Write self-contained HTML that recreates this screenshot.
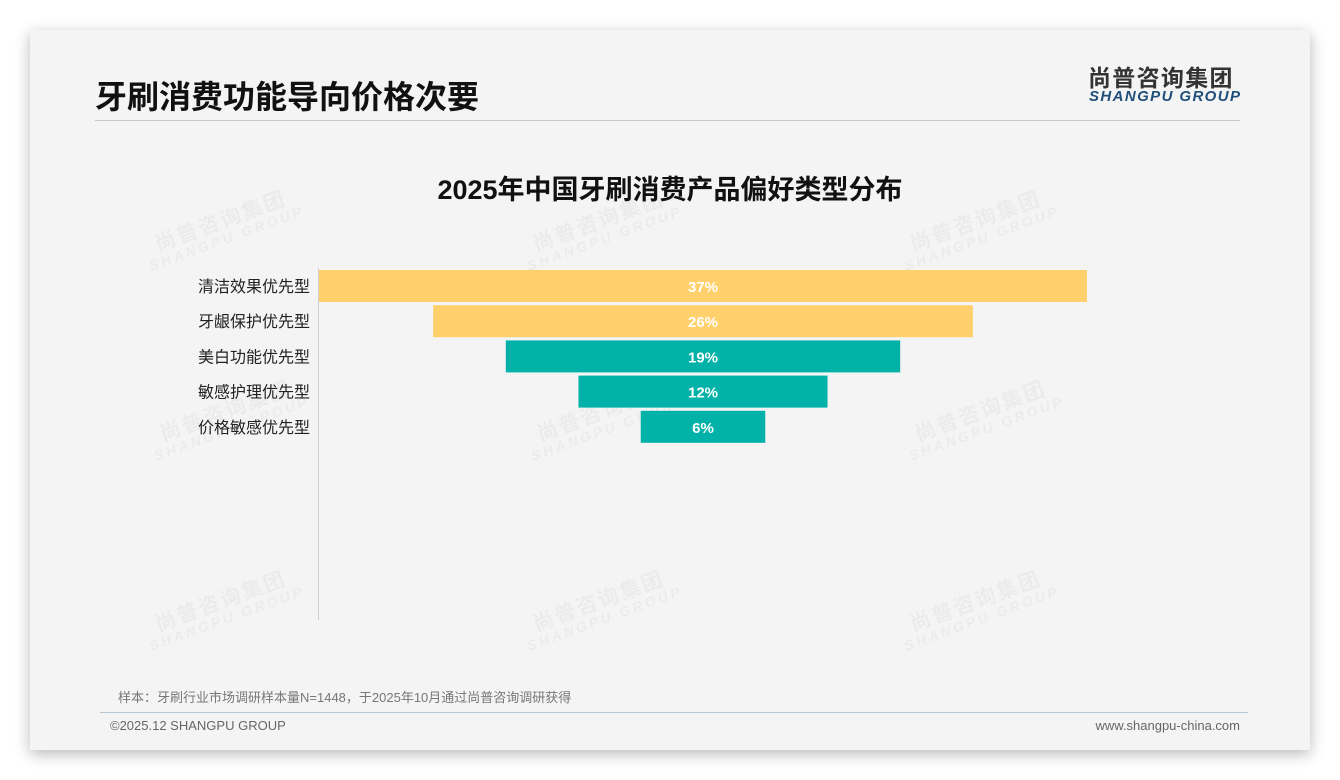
<!DOCTYPE html>
<html><head><meta charset="utf-8">
<style>
*{margin:0;padding:0;box-sizing:border-box}
body{width:1340px;height:780px;background:#fff;position:relative;overflow:hidden;font-family:"Liberation Sans","Noto Sans CJK SC",sans-serif}
#card{position:absolute;left:30px;top:30px;width:1280px;height:720px;background:#f4f4f4;box-shadow:0 4px 14px rgba(0,0,0,0.28)}
.abs{position:absolute}
.wm{position:absolute;transform:rotate(-20deg);transform-origin:0 0;color:rgba(0,0,0,0.035);font-weight:bold;text-align:center;line-height:1}
.wm .a{font-size:21px;letter-spacing:2px}
.wm .b{font-size:14px;letter-spacing:3px;font-style:italic}
</style></head><body>
<div id="card">
  <div class="abs" style="left:65px;top:42px;font-size:32px;font-weight:bold;color:#111">牙刷消费功能导向价格次要</div>
  <div class="abs" style="left:1058px;top:29px;font-size:23px;font-weight:bold;color:#333;letter-spacing:1.3px">尚普咨询集团</div>
  <div class="abs" style="left:1059px;top:58px;font-size:15px;font-weight:bold;font-style:italic;color:#1f4f7a;letter-spacing:1.4px">SHANGPU GROUP</div>
  <div class="abs" style="left:65px;top:90px;width:1145px;height:1px;background:#c8c8c8"></div>
  <div class="abs" style="left:0;width:1280px;top:138px;text-align:center;font-size:27px;font-weight:bold;color:#111">2025年中国牙刷消费产品偏好类型分布</div>
  <div class="abs" style="left:88px;top:657px;font-size:13px;color:#777">样本：牙刷行业市场调研样本量N=1448，于2025年10月通过尚普咨询调研获得</div>
  <div class="abs" style="left:70px;top:682px;width:1148px;height:1px;background:#b9c6d3"></div>
  <div class="abs" style="left:80px;top:688px;font-size:13px;color:#666">©2025.12 SHANGPU GROUP</div>
  <div class="abs" style="right:70px;top:688px;font-size:13px;color:#666">www.shangpu-china.com</div>
</div>
<div id="wms"></div>
<svg id="chart" width="1340" height="780" style="position:absolute;left:0;top:0"></svg>
<script>
const categories=["清洁效果优先型","牙龈保护优先型","美白功能优先型","敏感护理优先型","价格敏感优先型"];
const values=[37,26,19,12,6];
const labels=["37%","26%","19%","12%","6%"];
const colorsIdx=[0,0,1,1,1];
const palette=["#ffd06b","#02b2a8"];
const NS="http://www.w3.org/2000/svg";
const svg=document.getElementById('chart');
const cx=703, pxPer=768/37, top0=270, step=35.2, bh=32;
const x=v=>v*pxPer;
const y=i=>top0+i*step;
const ax=document.createElementNS(NS,'line');


ax.setAttribute('x1',318.5);ax.setAttribute('x2',318.5);ax.setAttribute('y1',268);ax.setAttribute('y2',620);
ax.setAttribute('stroke','#d0d0d0');svg.appendChild(ax);
values.forEach((v,i)=>{
  const w=x(v);
  const r=document.createElementNS(NS,'rect');
  
  
  r.setAttribute('x',cx-w/2);r.setAttribute('y',y(i));r.setAttribute('width',w);r.setAttribute('height',bh);
  r.setAttribute('fill',palette[colorsIdx[i]]);svg.appendChild(r);
  const t=document.createElementNS(NS,'text');
  
  
  t.setAttribute('x',cx);t.setAttribute('y',y(i)+bh/2+6);t.setAttribute('text-anchor','middle');
  t.setAttribute('fill','#fff');t.setAttribute('font-size','15');t.setAttribute('font-weight','bold');
  t.setAttribute('font-family','Liberation Sans, sans-serif');t.textContent=labels[i];svg.appendChild(t);
  const c=document.createElementNS(NS,'text');
  
  
  c.setAttribute('x',310);c.setAttribute('y',y(i)+bh/2+6);c.setAttribute('text-anchor','end');
  c.setAttribute('fill','#222');c.setAttribute('font-size','16');
  c.setAttribute('font-family','Liberation Sans, Noto Sans CJK SC, sans-serif');c.textContent=categories[i];svg.appendChild(c);
});
const wmPos=[[140,240],[518,240],[895,240],[145,430],[522,430],[900,430],[140,620],[518,620],[895,620]];
const wms=document.getElementById('wms');
wmPos.forEach(p=>{
  const d=document.createElement('div');
  
  
  d.className='wm';d.style.left=p[0]+'px';d.style.top=p[1]+'px';
  d.innerHTML='<div class="a">尚普咨询集团</div><div class="b">SHANGPU GROUP</div>';
  wms.appendChild(d);
});
</script>
</body></html>
